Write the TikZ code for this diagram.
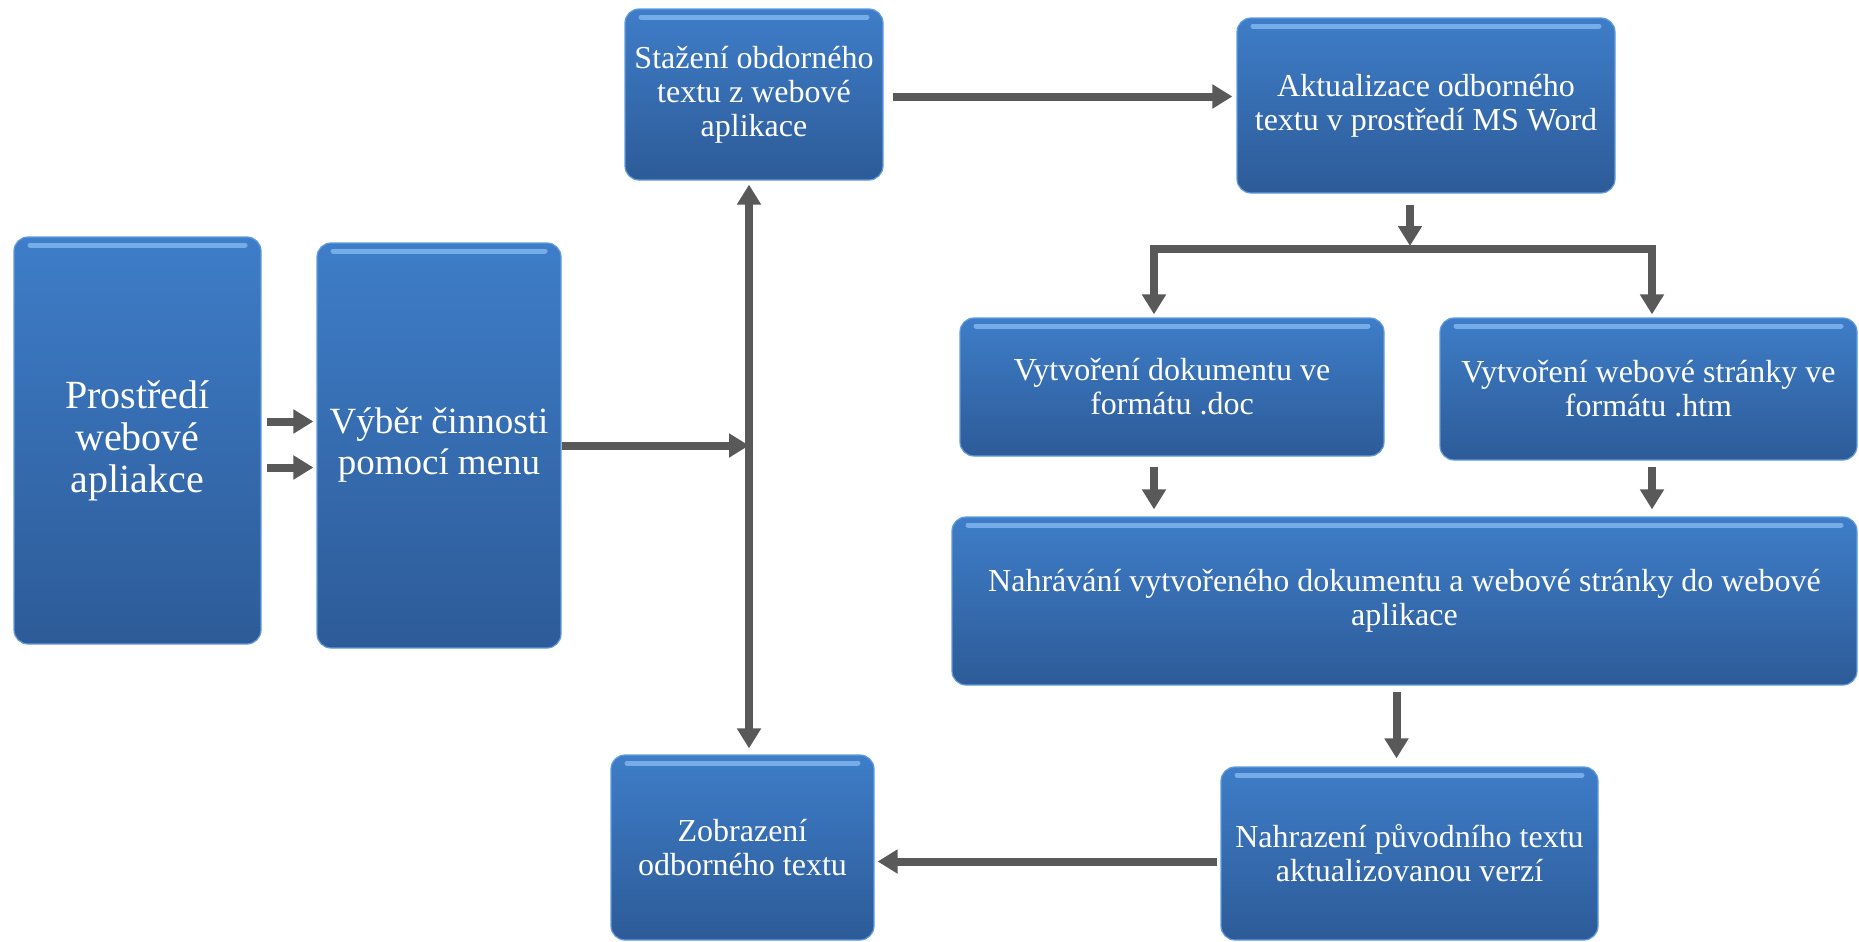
\documentclass[tikz,border=0pt]{standalone}
\usepackage{fontspec}
\setmainfont{Liberation Serif}
\usetikzlibrary{arrows.meta}

\definecolor{boxtop}{RGB}{62,125,200}
\definecolor{boxbot}{RGB}{45,91,152}
\definecolor{boxrim}{RGB}{96,156,224}
\definecolor{boxglow}{RGB}{118,172,232}
\definecolor{arrgray}{RGB}{89,89,89}

\begin{document}
\begin{tikzpicture}[x=0.5pt,y=-0.5pt,
	box/.style={rounded corners=7pt,top color=boxtop,bottom color=boxbot,
		draw=boxrim,line width=0.6pt,text=white,align=center,inner sep=2pt,
		font=\fontsize{16}{17}\selectfont,
		path picture={\draw[boxglow,line width=2.5pt,line cap=round]
			([shift={(8pt,-4pt)}]path picture bounding box.north west) --
			([shift={(-8pt,-4pt)}]path picture bounding box.north east);}},
	arr/.style={draw=arrgray,line width=4pt,line join=miter,
		-{Triangle[width=11.5pt,length=10pt]}},
	]
	\useasboundingbox (0,0) rectangle (1859,942);

	% boxes
	\node [box,minimum width=123.5pt,minimum height=203.5pt,
		font=\fontsize{20}{21}\selectfont] (prostredi) at (137.5,440.5)
		{Prostředí\\webové\\apliakce};
	\node [box,minimum width=122pt,minimum height=202.5pt,
		font=\fontsize{18.5}{20.5}\selectfont] (vyber) at (439,445.5)
		{Výběr činnosti\\pomocí menu};
	\node [box,minimum width=129pt,minimum height=85.5pt] (stazeni) at (754,94.5)
		{Stažení obdorného\\textu z webové\\aplikace};
	\node [box,minimum width=189pt,minimum height=87.5pt] (aktual) at (1426,105.5)
		{Aktualizace odborného\\textu v prostředí MS Word};
	\node [box,minimum width=212pt,minimum height=69pt] (doc) at (1172,387)
		{Vytvoření dokumentu ve\\formátu .doc};
	\node [box,minimum width=208.5pt,minimum height=71pt] (htm) at (1648.5,389)
		{Vytvoření webové stránky ve\\formátu .htm};
	\node [box,minimum width=452.5pt,minimum height=84pt] (nahravani) at (1404.5,601)
		{Nahrávání vytvořeného dokumentu a webové stránky do webové\\aplikace};
	\node [box,minimum width=188.5pt,minimum height=86.5pt] (nahrazeni) at (1409.5,853.5)
		{Nahrazení původního textu\\aktualizovanou verzí};
	\node [box,minimum width=131.5pt,minimum height=92.5pt] (zobrazeni) at (742.5,847.5)
		{Zobrazení\\odborného textu};

	\coordinate (hub) at (749,446);
	\coordinate (split) at (1410,249);
	\coordinate (lb) at (1154,249);
	\coordinate (rb) at (1652,249);

	% left part
	\foreach \dy in {12,-11}
	\draw [arr,shorten <=2.5pt,shorten >=1.5pt] ([yshift=\dy pt]vyber.west -| prostredi.east) -- ([yshift=\dy pt]vyber.west);
	\draw [arr] (vyber.east) -- (vyber.east -| hub);
	\draw [arr,{Triangle[width=11.5pt,length=10pt]}-{Triangle[width=11.5pt,length=10pt]},
		shorten <=2pt,shorten >=3pt] (stazeni.south -| hub) -- (zobrazeni.north -| hub);
	\draw [arr,shorten <=4.5pt,shorten >=2pt] ([yshift=-1pt]stazeni.east) -- ([yshift=-1pt]stazeni.east -| aktual.west);

	% branching
	\draw [arr,shorten <=5.5pt,shorten >=1.5pt] (aktual.south -| split) -- (split);
	\draw [arr,shorten >=1.5pt] (split) -| (lb |- doc.north);
	\draw [arr,shorten >=1.5pt] (split) -| (rb |- htm.north);
	\draw [arr,shorten <=5pt,shorten >=3.5pt] (lb |- doc.south) -- (lb |- nahravani.north);
	\draw [arr,shorten <=3pt,shorten >=3.5pt] (rb |- htm.south) -- (rb |- nahravani.north);

	% bottom
	\draw [arr,shorten <=3pt,shorten >=4pt] ([xshift=-4pt]nahravani.south) -- ([xshift=-4pt]nahravani.south |- nahrazeni.north);
	\draw [arr,shorten <=1.5pt,shorten >=1.5pt] ([yshift=-4pt]nahrazeni.west) -- ([yshift=-4pt]nahrazeni.west -| zobrazeni.east);
\end{tikzpicture}
\end{document}
